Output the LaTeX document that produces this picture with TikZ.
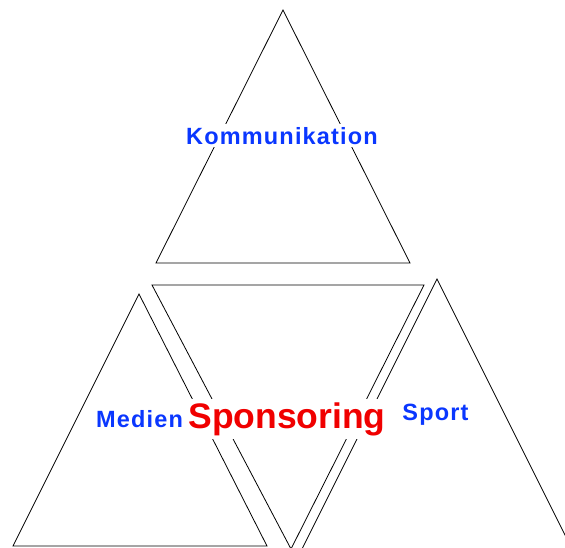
\documentclass[tikz,border=0pt]{standalone}
\usepackage{fontspec}
\setmainfont{Liberation Sans}
\newfontfamily\labelfont[LetterSpace=5]{Liberation Sans Bold}
\newfontfamily\bigfont{Liberation Sans Bold}
\definecolor{lblblue}{RGB}{10,55,255}
\definecolor{lblred}{RGB}{240,0,0}
\begin{document}
\begin{tikzpicture}[x=1pt,y=-1pt,
  tri/.style={draw=black,line width=0.8pt,line join=miter},
  bluelbl/.style={text=lblblue,fill=white,font=\labelfont\fontsize{23.5}{26}\selectfont,anchor=base,inner xsep=1pt,inner ysep=3pt},
  redlbl/.style={text=lblred,fill=white,font=\bigfont\fontsize{35.5}{38}\selectfont,anchor=base,inner xsep=1pt,inner ysep=3pt}]
\useasboundingbox (0,0) rectangle (565,547);
\clip (0,0) rectangle (565,547);
% top triangle
\coordinate (ta) at (283,10);
\coordinate (tl) at (156,263);
\coordinate (tr) at (410,263);
\draw[tri] (ta) -- (tl) -- (tr) -- cycle;
% middle inverted triangle
\coordinate (ml) at (152,285);
\coordinate (mr) at (424,285);
\coordinate (mb) at (291,549);
\draw[tri] (ml) -- (mr) -- (mb) -- cycle;
% left triangle
\coordinate (la) at (139,294);
\coordinate (ll) at (13,546);
\coordinate (lr) at (267,546);
\draw[tri] (la) -- (ll) -- (lr) -- cycle;
% right triangle (extends beyond the frame)
\coordinate (ra) at (437,279);
\coordinate (rl) at (297,559);
\coordinate (rr) at (577,559);
\draw[tri] (ra) -- (rl) -- (rr) -- cycle;
% labels
\node[bluelbl] (kom) at (282,144) {Kommunikation};
\node[bluelbl] (med) at (139.5,427) {Medien};
\node[bluelbl] (spo) at (435.5,420) {Sport};
\node[redlbl] (spn) at (287,428) {Sponsoring};
\end{tikzpicture}
\end{document}
